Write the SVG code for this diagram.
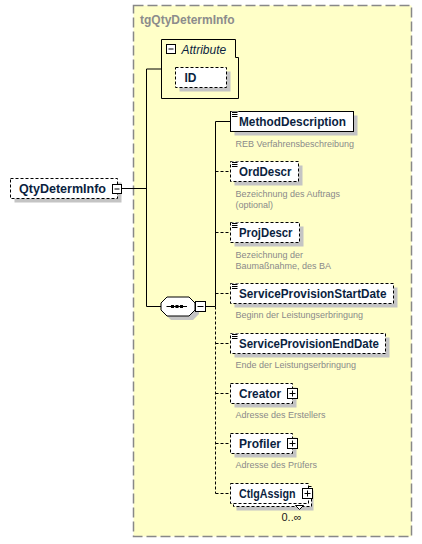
<svg xmlns="http://www.w3.org/2000/svg" width="422" height="544" viewBox="0 0 422 544">
<style>
.name{font-family:"Liberation Sans",Arial,sans-serif;font-weight:bold;font-size:12px;fill:#0b1f3f}
.doc{font-family:"Liberation Sans",Arial,sans-serif;font-size:9px;fill:#8a8a8a}
.box{fill:#ffffff;stroke:#000;stroke-width:1}
.opt{fill:#ffffff;stroke:#000;stroke-width:1;stroke-dasharray:3,2}
.shadow{fill:#c4c4c4}
.line{fill:none;stroke:#000;stroke-width:1}
.dline{fill:none;stroke:#000;stroke-width:1;stroke-dasharray:3,2}
.tog{fill:#ffffff;stroke:#000;stroke-width:1}
</style>
<defs>
<g id="icon"><rect x="1" y="0" width="7" height="6" fill="#fff"/><path d="M1.5 1h5.5M1.5 3h5.5M1.5 5h5.5" stroke="#000" stroke-width="1"/></g>
<g id="plus"><rect class="tog" x="0" y="0" width="10" height="10"/><path d="M2 5h6M5 2v6" stroke="#000" stroke-width="1"/></g>
<g id="minus"><rect class="tog" x="0" y="0" width="9" height="9"/><path d="M2 4.5h5" stroke="#000" stroke-width="1"/></g>
</defs>

<g id="group-tgQtyDetermInfo">
<rect x="133.5" y="5.5" width="278" height="531" fill="#ffffc8" stroke="#888888" stroke-width="1.5" stroke-dasharray="10,4"/>
<text x="140" y="24" font-family="'Liberation Sans',Arial,sans-serif" font-weight="bold" font-size="12" fill="#8c8c8c">tgQtyDetermInfo</text>
</g>

<g id="connectors">
<path class="line" d="M121 188.5H146.5M146.5 69V306.5M146.5 69H161.5M146.5 306.5H161"/>
<path class="line" d="M205.5 306.5H215.5M215.5 121.5V306.5M215.5 121.5H230.5"/>
<path class="dline" d="M215.5 306.5V493.5"/>
<path class="dline" d="M215.5 171.5H230.5M215.5 232.5H230.5M215.5 293.5H230.5M215.5 343.5H230.5M215.5 393.5H230.5M215.5 443.5H230.5M215.5 493.5H230.5"/>
</g>

<g id="node-QtyDetermInfo">
<rect class="shadow" x="14.5" y="182.5" width="107" height="20"/>
<rect class="opt" x="10.5" y="178.5" width="107" height="20"/>
<text class="name" x="19" y="193" textLength="87" lengthAdjust="spacingAndGlyphs">QtyDetermInfo</text>
<use href="#minus" x="112.5" y="184.5"/>
</g>

<g id="node-Attribute">
<polygon points="161.5,39.5 235.5,39.5 235.5,57.5 238.5,57.5 238.5,98.5 161.5,98.5" fill="none" stroke="#000" stroke-width="1"/>
<use href="#minus" x="166.5" y="44.5"/>
<text x="181.5" y="53.5" font-family="'Liberation Sans',Arial,sans-serif" font-style="italic" font-size="12" fill="#0b1f3f">Attribute</text>
</g>

<g id="node-ID">
<rect class="shadow" x="179.5" y="71.5" width="51" height="20"/>
<rect class="opt" x="175.5" y="67.5" width="51" height="20"/>
<text class="name" x="184.5" y="82">ID</text>
</g>

<g id="node-sequence">
<polygon class="shadow" points="171,301 193,301 199,307 199,314 193,320 171,320 165,314 165,307"/>
<polygon points="167,297 189,297 195,303 195,310 189,316 167,316 161,310 161,303" fill="#fff" stroke="#000" stroke-width="1"/>
<path d="M166.5 306.5H187" stroke="#000" stroke-width="1"/>
<rect x="171" y="305" width="3" height="3" fill="#000"/>
<rect x="175.5" y="305" width="3" height="3" fill="#000"/>
<rect x="180" y="305" width="3" height="3" fill="#000"/>
<rect class="tog" x="195.5" y="301.5" width="10" height="10"/>
<path d="M197.5 306.5h6" stroke="#000" stroke-width="1"/>
</g>

<g id="node-MethodDescription">
<rect class="shadow" x="234.5" y="115.5" width="123" height="20"/>
<rect class="box" x="230.5" y="111.5" width="123" height="20"/>
<use href="#icon" x="230.5" y="111.5"/>
<text class="name" x="239" y="126" textLength="107" lengthAdjust="spacingAndGlyphs">MethodDescription</text>
<text class="doc" x="235.5" y="146.5">REB Verfahrensbeschreibung</text>
</g>

<g id="node-OrdDescr">
<rect class="shadow" x="234.5" y="165.5" width="68" height="20"/>
<rect class="opt" x="230.5" y="161.5" width="68" height="20"/>
<use href="#icon" x="230.5" y="161.5"/>
<text class="name" x="239" y="176" textLength="52.5" lengthAdjust="spacingAndGlyphs">OrdDescr</text>
<text class="doc" x="235.5" y="196.5">Bezeichnung des Auftrags</text>
<text class="doc" x="235.5" y="207.5">(optional)</text>
</g>

<g id="node-ProjDescr">
<rect class="shadow" x="234.5" y="226.5" width="69" height="20"/>
<rect class="opt" x="230.5" y="222.5" width="69" height="20"/>
<use href="#icon" x="230.5" y="222.5"/>
<text class="name" x="239" y="237" textLength="53.5" lengthAdjust="spacingAndGlyphs">ProjDescr</text>
<text class="doc" x="235.5" y="257.5">Bezeichnung der</text>
<text class="doc" x="235.5" y="268.5">Baumaßnahme, des BA</text>
</g>

<g id="node-ServiceProvisionStartDate">
<rect class="shadow" x="234.5" y="287.5" width="163" height="20"/>
<rect class="opt" x="230.5" y="283.5" width="163" height="20"/>
<use href="#icon" x="230.5" y="283.5"/>
<text class="name" x="239" y="298" textLength="147.5" lengthAdjust="spacingAndGlyphs">ServiceProvisionStartDate</text>
<text class="doc" x="235.5" y="317.5">Beginn der Leistungserbringung</text>
</g>

<g id="node-ServiceProvisionEndDate">
<rect class="shadow" x="234.5" y="337.5" width="155" height="20"/>
<rect class="opt" x="230.5" y="333.5" width="155" height="20"/>
<use href="#icon" x="230.5" y="333.5"/>
<text class="name" x="239" y="348" textLength="140" lengthAdjust="spacingAndGlyphs">ServiceProvisionEndDate</text>
<text class="doc" x="235.5" y="368">Ende der Leistungserbringung</text>
</g>

<g id="node-Creator">
<rect class="shadow" x="234.5" y="387.5" width="62" height="20"/>
<rect class="opt" x="230.5" y="383.5" width="62" height="20"/>
<text class="name" x="239" y="398" textLength="42" lengthAdjust="spacingAndGlyphs">Creator</text>
<use href="#plus" x="287.5" y="388.5"/>
<text class="doc" x="235.5" y="418">Adresse des Erstellers</text>
</g>

<g id="node-Profiler">
<rect class="shadow" x="234.5" y="437.5" width="62" height="20"/>
<rect class="opt" x="230.5" y="433.5" width="62" height="20"/>
<text class="name" x="239" y="448" textLength="42" lengthAdjust="spacingAndGlyphs">Profiler</text>
<use href="#plus" x="287.5" y="438.5"/>
<text class="doc" x="235.5" y="468">Adresse des Prüfers</text>
</g>

<g id="node-CtlgAssign">
<rect class="shadow" x="236.5" y="490.5" width="77" height="20"/>
<rect class="opt" x="233.5" y="486.5" width="78" height="20"/>
<rect class="opt" x="230.5" y="483.5" width="78" height="20"/>
<polygon points="295.5,505.5 303.5,505.5 299.5,509.5" fill="#fff" stroke="#000" stroke-width="1"/>
<text class="name" x="239" y="498" textLength="56.5" lengthAdjust="spacingAndGlyphs">CtlgAssign</text>
<use href="#plus" x="302.5" y="488.5"/>
<text x="281.5" y="521" font-family="'Liberation Sans',Arial,sans-serif" font-size="11" fill="#1a1a1a">0..∞</text>
</g>
</svg>
